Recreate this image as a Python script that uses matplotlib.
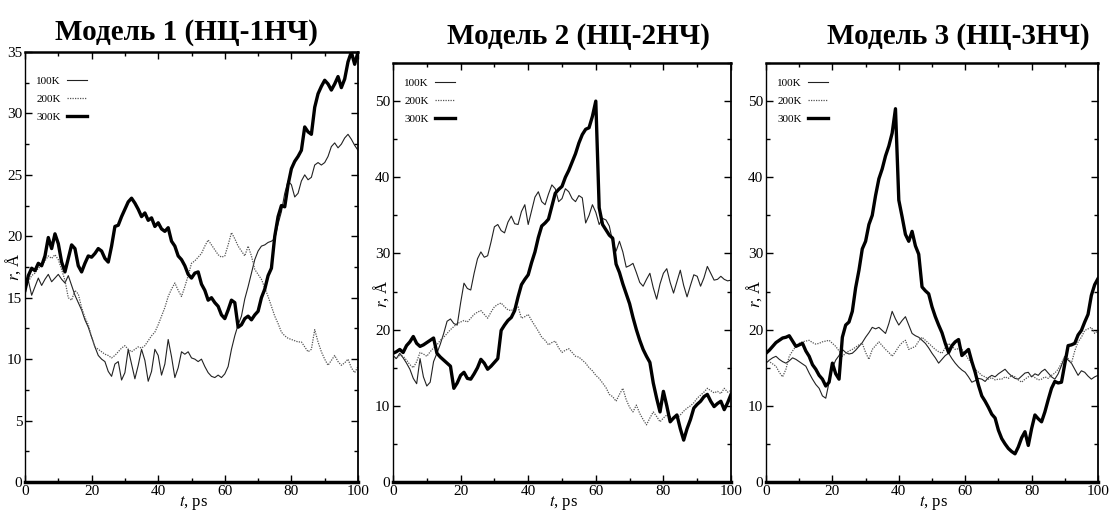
import numpy as np
import matplotlib.pyplot as plt
from matplotlib.ticker import MultipleLocator

plt.rcParams['font.family'] = ['Liberation Serif', 'DejaVu Serif']
plt.rcParams['mathtext.fontset'] = 'stix'

# время, пс (шаг 1 пс)
t = np.arange(0, 101)

titles = ['Модель 1 (НЦ-1НЧ)', 'Модель 2 (НЦ-2НЧ)', 'Модель 3 (НЦ-3НЧ)']
temps = ['100K', '200K', '300K']

# Модель 1
p1_100 = [15.6, 16.4, 15.2, 15.9, 16.6, 16.0, 16.5, 16.9, 16.3, 16.6,
          16.9, 16.5, 16.2, 16.8, 16.0, 15.2, 14.6, 14.0, 13.2, 12.6,
          11.8, 11.0, 10.3, 10.0, 9.8, 9.0, 8.6, 9.6, 9.8, 8.3,
          8.9, 10.8, 9.6, 8.4, 9.5, 10.8, 9.9, 8.2, 9.0, 10.8,
          10.3, 8.7, 9.6, 11.6, 10.2, 8.5, 9.3, 10.6, 10.4, 10.6,
          10.1, 10.0, 9.8, 10.0, 9.4, 8.9, 8.6, 8.5, 8.7, 8.5,
          8.8, 9.4, 10.8, 11.9, 12.8, 13.5, 14.9, 15.9, 17.0, 18.1,
          18.8, 19.2, 19.3, 19.5, 19.6, 19.8, 21.0, 22.0, 23.5, 24.5,
          24.2, 23.2, 23.5, 24.5, 25.0, 24.6, 24.8, 25.8, 26.0, 25.8,
          26.0, 26.5, 27.3, 27.6, 27.2, 27.5, 28.0, 28.3, 27.9, 27.4, 27.0]
p1_200 = [16.0, 16.3, 16.8, 17.0, 17.4, 17.6, 18.0, 18.4, 18.2, 18.5,
          18.1, 17.3, 16.4, 15.0, 14.8, 15.6, 15.3, 14.2, 13.4, 12.8,
          11.8, 11.0, 10.8, 10.6, 10.4, 10.3, 10.1, 10.3, 10.6, 10.9,
          11.1, 10.8, 10.6, 10.8, 11.0, 10.9, 11.1, 11.5, 11.9, 12.2,
          12.8, 13.5, 14.2, 15.1, 15.7, 16.2, 15.6, 15.1, 15.9, 16.8,
          17.8, 18.0, 18.3, 18.6, 19.2, 19.7, 19.3, 18.9, 18.5, 18.3,
          18.4, 19.3, 20.3, 19.8, 19.2, 18.8, 18.4, 19.2, 18.4, 17.3,
          16.9, 16.5, 15.8, 15.1, 14.3, 13.5, 12.9, 12.2, 11.9, 11.7,
          11.6, 11.5, 11.4, 11.4, 11.0, 10.6, 10.8, 12.4, 11.4, 10.6,
          10.0, 9.5, 9.9, 10.3, 9.8, 9.5, 9.7, 10.0, 9.3, 8.9, 9.4]
p1_300 = [15.6, 16.8, 17.4, 17.2, 17.8, 17.6, 18.4, 19.9, 19.0, 20.2,
          19.4, 17.9, 17.1, 18.2, 19.3, 19.0, 17.6, 17.1, 17.8, 18.4,
          18.3, 18.6, 19.0, 18.8, 18.2, 17.9, 19.2, 20.8, 20.9, 21.6,
          22.2, 22.8, 23.1, 22.7, 22.2, 21.6, 21.9, 21.3, 21.5, 20.8,
          21.1, 20.6, 20.4, 20.7, 19.6, 19.2, 18.4, 18.1, 17.6, 16.9,
          16.6, 17.0, 17.1, 16.1, 15.6, 14.8, 15.0, 14.6, 14.3, 13.6,
          13.3, 14.0, 14.8, 14.6, 12.6, 12.8, 13.3, 13.5, 13.2, 13.6,
          13.9, 15.0, 15.7, 16.8, 17.4, 20.0, 21.6, 22.5, 22.4, 24.2,
          25.5, 26.1, 26.5, 27.0, 28.9, 28.5, 28.3, 30.5, 31.6, 32.2,
          32.7, 32.4, 31.9, 32.4, 33.0, 32.1, 32.8, 34.2, 35.0, 34.0, 35.0]

# Модель 2
p2_100 = [16.6, 16.2, 16.9, 16.3, 15.6, 14.8, 13.6, 12.9, 16.2, 13.8,
          12.6, 13.1, 15.8, 16.9, 18.1, 19.5, 21.1, 21.4, 20.8, 20.6,
          23.5, 26.1, 25.4, 25.2, 27.4, 29.3, 30.2, 29.5, 29.7, 31.5,
          33.5, 33.8, 33.0, 32.7, 34.1, 34.9, 33.9, 33.8, 35.5, 36.4,
          33.8, 35.6, 37.4, 38.1, 36.8, 36.4, 37.8, 39.0, 38.5, 36.8,
          37.2, 38.5, 38.1, 37.2, 36.8, 37.6, 37.3, 34.0, 35.0, 36.4,
          35.4, 33.8, 34.6, 34.4, 33.6, 31.5, 30.3, 31.6, 30.2, 28.2,
          28.4, 28.7, 27.5, 26.2, 25.7, 26.6, 27.4, 25.5, 24.0, 26.0,
          27.4, 28.0, 26.2, 24.8, 26.3, 27.8, 25.8, 24.3, 25.8, 27.2,
          27.0, 25.7, 26.8, 28.3, 27.4, 26.5, 26.6, 27.0, 26.6, 26.4, 26.5]
p2_200 = [16.0, 16.3, 16.6, 16.5, 16.0, 15.4, 15.0, 15.8, 17.0, 16.8,
          16.5, 17.1, 17.6, 18.0, 18.6, 19.0, 19.5, 20.0, 20.4, 20.8,
          21.0, 21.2, 21.0, 21.5, 22.0, 22.3, 22.5, 22.0, 21.5, 22.3,
          23.0, 23.3, 23.5, 23.0, 22.6, 22.5, 22.8, 23.0, 21.5, 21.7,
          22.0, 21.2, 20.5, 19.8, 19.0, 18.6, 18.0, 18.3, 18.5, 17.6,
          17.0, 17.3, 17.5, 17.0, 16.5, 16.4, 16.0, 15.6, 15.0, 14.6,
          14.0, 13.6, 13.0, 12.4, 11.5, 11.2, 10.6, 11.5, 12.3, 10.8,
          9.8, 9.2, 10.1, 9.0, 8.2, 7.5, 8.4, 9.2, 8.6, 7.9,
          8.4, 8.8, 8.6, 8.3, 8.4, 8.8, 9.3, 9.7, 10.0, 10.4,
          11.0, 11.4, 11.8, 12.3, 12.0, 11.7, 11.9, 11.6, 12.3, 11.8, 12.0]
p2_300 = [16.9, 17.1, 17.4, 17.0, 17.9, 18.4, 19.1, 18.2, 17.8, 18.0,
          18.3, 18.6, 18.9, 16.9, 16.4, 16.0, 15.6, 15.2, 12.3, 13.0,
          14.0, 14.4, 13.6, 13.5, 14.2, 15.0, 16.1, 15.6, 14.8, 15.2,
          15.7, 16.2, 19.9, 20.6, 21.2, 21.6, 22.5, 24.3, 25.9, 26.6,
          27.2, 28.8, 30.2, 32.1, 33.6, 34.0, 34.5, 36.2, 37.9, 38.4,
          38.8, 40.0, 40.9, 42.0, 43.1, 44.5, 45.6, 46.3, 46.5, 48.0,
          50.0, 36.0, 33.8, 33.1, 32.4, 32.0, 28.6, 27.5, 26.0, 24.7,
          23.4, 21.6, 20.0, 18.6, 17.4, 16.5, 15.7, 13.0, 11.0, 9.2,
          11.9, 10.0, 7.9, 8.4, 8.8, 7.0, 5.5, 7.0, 8.2, 9.7,
          10.2, 10.6, 11.2, 11.5, 10.6, 9.9, 10.3, 10.6, 9.5, 10.4, 11.5]

# Модель 3
p3_100 = [15.6, 16.0, 16.3, 16.5, 16.1, 15.8, 15.6, 15.9, 16.3, 16.1,
          15.8, 15.5, 15.2, 14.3, 13.5, 12.8, 12.3, 11.3, 11.0, 13.1,
          15.0, 16.0, 16.6, 17.4, 17.0, 16.8, 16.9, 17.3, 17.8, 18.3,
          19.0, 19.6, 20.3, 20.1, 20.3, 19.9, 19.5, 20.8, 22.4, 21.4,
          20.6, 21.2, 21.7, 20.6, 19.5, 19.2, 19.0, 18.6, 18.2, 17.6,
          16.9, 16.3, 15.6, 16.1, 16.6, 16.9, 16.2, 15.6, 15.1, 14.7,
          14.4, 13.8, 13.1, 13.3, 13.6, 13.5, 13.2, 13.7, 14.0, 13.8,
          14.2, 14.5, 14.8, 14.3, 13.9, 13.6, 13.5, 13.9, 14.3, 14.4,
          13.8, 14.2, 14.0, 14.5, 14.8, 14.3, 13.8, 13.5, 14.2, 15.3,
          16.5, 16.0, 15.6, 14.8, 14.0, 14.6, 14.4, 13.9, 13.5, 13.8, 14.0]
p3_200 = [16.1, 15.8, 15.5, 15.2, 14.4, 13.8, 14.8, 16.5, 17.2, 17.8,
          18.2, 18.4, 18.5, 18.6, 18.3, 18.1, 18.2, 18.4, 18.5, 18.6,
          18.2, 17.8, 17.2, 16.5, 16.9, 17.2, 17.4, 17.7, 18.0, 18.2,
          17.0, 16.1, 17.4, 17.9, 18.4, 17.9, 17.4, 17.0, 16.5, 17.1,
          17.8, 18.3, 18.6, 17.4, 17.6, 17.8, 18.5, 19.0, 18.6, 18.2,
          17.8, 17.4, 17.1, 16.9, 17.6, 18.2, 17.8, 17.4, 17.5, 17.4,
          16.8, 16.1, 15.6, 14.8, 14.4, 14.0, 13.8, 13.5, 13.7, 13.4,
          13.5, 13.5, 13.8, 13.6, 14.0, 13.8, 13.4, 13.1, 13.5, 13.8,
          14.0, 13.7, 13.4, 13.5, 13.8, 13.6, 14.0, 14.3, 14.8, 15.6,
          16.5, 16.2, 15.6, 17.2, 18.4, 19.0, 19.9, 20.1, 20.3, 19.5, 19.9]
p3_300 = [16.9, 17.3, 17.8, 18.3, 18.6, 18.9, 19.0, 19.2, 18.5, 17.8,
          18.0, 18.2, 17.2, 16.5, 15.4, 14.8, 14.0, 13.5, 12.6, 13.1,
          15.6, 14.2, 13.5, 19.0, 20.6, 21.0, 22.4, 25.5, 27.8, 30.6,
          31.6, 33.8, 35.0, 37.6, 39.8, 41.1, 42.8, 44.1, 45.8, 49.0,
          37.0, 34.8, 32.5, 31.6, 32.9, 31.0, 29.9, 25.6, 25.1, 24.7,
          23.0, 21.7, 20.6, 19.6, 18.2, 17.0, 17.9, 18.4, 18.7, 16.6,
          17.0, 17.4, 15.8, 14.4, 12.7, 11.3, 10.6, 9.8, 8.9, 8.4,
          6.8, 5.7, 5.0, 4.4, 4.0, 3.7, 4.6, 5.8, 6.6, 4.8,
          7.0, 8.8, 8.3, 7.9, 9.2, 10.8, 12.3, 13.2, 13.0, 13.1,
          15.5, 17.9, 18.0, 18.2, 19.3, 19.9, 21.0, 22.0, 24.5, 25.9, 26.7]

series = [(p1_100, p1_200, p1_300), (p2_100, p2_200, p2_300), (p3_100, p3_200, p3_300)]

W, H = 1110, 513
fig = plt.figure(figsize=(W / 100, H / 100), dpi=100)

# рамки панелей в пикселях: слева, сверху, справа, снизу
boxes = [(25, 52, 358, 482), (393, 63, 731, 482), (766, 63, 1098, 482)]
ylims = [35, 55, 55]
title_xy = [(186, 33), (578, 37), (958, 37)]
ylab_y = [0.50, 0.45, 0.45]

for i in range(3):
    l, tp, r, b = boxes[i]
    ax = fig.add_axes([l / W, 1 - b / H, (r - l) / W, (b - tp) / H])
    s100, s200, s300 = series[i]
    ax.plot(t, s100, color='#222222', lw=0.8, label=temps[0])
    ax.plot(t, s200, color='#555555', lw=0.9, ls=(0, (1, 1)), label=temps[1])
    ax.plot(t, s300, color='black', lw=2.4, label=temps[2])

    ax.set_xlim(0, 100)
    ax.set_ylim(0, ylims[i])
    ax.xaxis.set_major_locator(MultipleLocator(20))
    ax.xaxis.set_minor_locator(MultipleLocator(10))
    if i == 0:
        ax.yaxis.set_major_locator(MultipleLocator(5))
        ax.yaxis.set_minor_locator(MultipleLocator(2.5))
    else:
        ax.yaxis.set_major_locator(MultipleLocator(10))
        ax.yaxis.set_minor_locator(MultipleLocator(5))
    ax.tick_params(which='both', direction='in', top=True, right=True,
                   labelsize=11, width=1.0)
    ax.tick_params(which='major', length=5, pad=2)
    ax.tick_params(which='minor', length=3)
    ax.spines['bottom'].set_linewidth(2.5)
    ax.spines['top'].set_linewidth(1.8)
    ax.spines['left'].set_linewidth(1.0)
    ax.spines['right'].set_linewidth(1.3)

    ax.text(-0.035, ylab_y[i], r'$r$, Å', transform=ax.transAxes, rotation=90,
            ha='center', va='center', fontsize=12)
    ax.text(0.505, -0.028, r'$t$, ps', transform=ax.transAxes,
            ha='center', va='top', fontsize=12)

    top_off = 0.955 if i == 0 else 0.975
    ax.legend(loc='upper left', bbox_to_anchor=(0.02, top_off), frameon=False,
              fontsize=8, handlelength=1.8, markerfirst=False,
              labelspacing=0.75, borderaxespad=0, handletextpad=0.6)

    fig.text(title_xy[i][0] / W, 1 - title_xy[i][1] / H, titles[i],
             ha='center', va='center', fontsize=21, fontweight='bold')

fig.savefig('out.png', dpi=100)
